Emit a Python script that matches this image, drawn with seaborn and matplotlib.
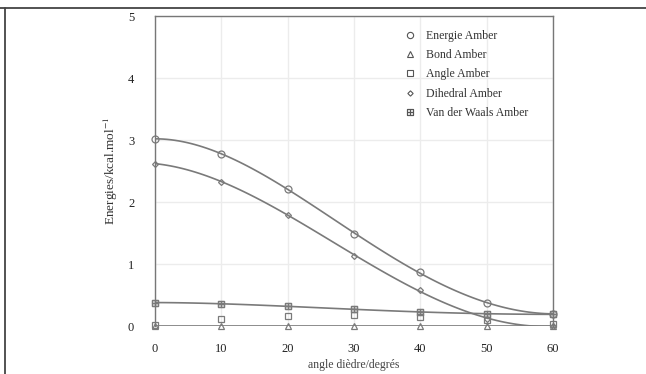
import numpy as np
import pandas as pd
import seaborn as sns
import matplotlib.pyplot as plt
from matplotlib.lines import Line2D

# valeurs
angles = [0, 10, 20, 30, 40, 50, 60]
energie = [3.02, 2.78, 2.21, 1.49, 0.87, 0.37, 0.20]
bond = [0.01, 0.01, 0.01, 0.01, 0.01, 0.01, 0.01]
angle_amber = [0.02, 0.12, 0.17, 0.18, 0.15, 0.10, 0.03]
dihedral = [2.62, 2.33, 1.80, 1.13, 0.58, 0.12, 0.00]
vdw = [0.38, 0.36, 0.32, 0.27, 0.23, 0.20, 0.19]

labels = ["Energie Amber", "Bond Amber", "Angle Amber", "Dihedral Amber", "Van der Waals Amber"]
markers = ["o", "^", "s", "D", "$\\boxplus$"]
sizes = [5, 4.5, 4.5, 3, 5]

sns.set_style("white")
plt.rcParams["font.family"] = ["Liberation Serif", "DejaVu Serif"]
plt.rcParams["mathtext.fontset"] = "stix"

grey = "#7a7a7a"
fig = plt.figure(figsize=(6.46, 3.74), dpi=100)
ax = fig.add_axes([0.24, 0.128, 0.616, 0.829])

df = pd.DataFrame({"angle": angles, "Energie Amber": energie, "Bond Amber": bond,
                   "Angle Amber": angle_amber, "Dihedral Amber": dihedral,
                   "Van der Waals Amber": vdw})

# courbes lissees
for col in ["Energie Amber", "Dihedral Amber", "Van der Waals Amber", "Bond Amber"]:
    sns.regplot(data=df, x="angle", y=col, order=4, ci=None, scatter=False, ax=ax,
                line_kws={"color": grey, "lw": 1.2})

# points
for col, m, s in zip(labels, markers, sizes):
    ax.plot(df["angle"], df[col], linestyle="none", marker=m, markersize=s,
            markerfacecolor="none", markeredgecolor=grey, markeredgewidth=0.9, clip_on=False)

ax.set_xlim(0, 60)
ax.set_ylim(0, 5)
ax.set_xticks(range(0, 61, 10))
ax.set_yticks(range(0, 6))
ax.grid(True, color="#ececec", lw=1)
ax.tick_params(axis="both", length=0, labelsize=9, colors="#222222")
ax.tick_params(axis="x", pad=12)
ax.tick_params(axis="y", pad=15)
for sp in ax.spines.values():
    sp.set_color("#777777")
    sp.set_linewidth(1.0)
ax.spines["bottom"].set_visible(False)
ax.set_xlabel("angle dièdre/degrés", fontsize=8.5, color="#444444", labelpad=3)
ax.set_ylabel("Energies/kcal.mol$^{-1}$", fontsize=9.5, color="#333333", labelpad=6)

handles = [Line2D([], [], linestyle="none", marker=m, markersize=s * 0.9,
                  markerfacecolor="none", markeredgecolor="#555555", markeredgewidth=0.8)
           for m, s in zip(markers, sizes)]
ax.legend(handles, labels, loc="upper left", bbox_to_anchor=(0.6, 0.99), frameon=False,
          fontsize=8.5, labelspacing=0.62, handletextpad=0.8, handlelength=1.0,
          labelcolor="#333333")

# cadre exterieur du scan
fig.add_artist(Line2D([0, 1], [0.979, 0.979], color="#444444", lw=1.3))
fig.add_artist(Line2D([0.008, 0.008], [0, 0.979], color="#444444", lw=1.3))

fig.savefig("out.png", dpi=100)
